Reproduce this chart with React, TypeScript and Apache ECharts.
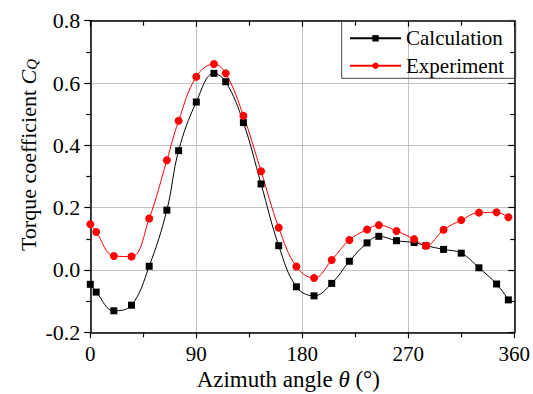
import React, { useEffect, useRef } from "react";
import * as echarts from "echarts";

// Azimuth positions (degrees) shared by both curves
const azimuth = [0, 5, 20, 35, 50, 65, 75, 90, 105, 115, 130, 145, 160, 175, 190, 205, 220, 235, 245, 260, 275, 285, 300, 315, 330, 345, 355];

// Torque coefficient C_Q
const calculation = [-0.046, -0.071, -0.131, -0.113, 0.012, 0.192, 0.383, 0.539, 0.631, 0.604, 0.473, 0.276, 0.078, -0.054, -0.083, -0.043, 0.028, 0.087, 0.108, 0.094, 0.088, 0.078, 0.066, 0.054, 0.007, -0.045, -0.096];
const experiment = [0.147, 0.122, 0.045, 0.043, 0.165, 0.352, 0.479, 0.62, 0.661, 0.631, 0.495, 0.317, 0.136, 0.011, -0.026, 0.032, 0.096, 0.13, 0.144, 0.125, 0.099, 0.078, 0.129, 0.16, 0.184, 0.185, 0.169];

const seriesNames = ["Calculation", "Experiment"];
const xRange = [0, 360];
const yRange = [-0.2, 0.8];

const serif = "Times New Roman, Liberation Serif, DejaVu Serif, serif";

export default function App() {
  const ref = useRef<HTMLDivElement>(null);

  useEffect(() => {
    const chart = echarts.init(ref.current!, null, { renderer: "svg" });
    const pairs = (ys: number[]) => azimuth.map((x, i) => [x, ys[i]]);
    const axisLine = { show: true, onZero: false, lineStyle: { color: "#000", width: 1.5 } };
    const tickStyle = { color: "#000", width: 1.2 };

    chart.setOption({
      animation: false,
      backgroundColor: "#fff",
      textStyle: { fontFamily: serif, color: "#000" },
      grid: { left: 90.3, top: 20.7, right: 17.3, bottom: 61.7, containLabel: false },
      xAxis: [
        {
          type: "value",
          position: "bottom",
          min: xRange[0],
          max: xRange[1],
          interval: 90,
          axisLine,
          axisTick: { inside: false, length: 6, lineStyle: tickStyle },
          minorTick: { show: true, splitNumber: 2, length: 5, lineStyle: tickStyle },
          axisLabel: { fontSize: 21, fontFamily: serif, color: "#000", margin: 11 },
          splitLine: { show: true, lineStyle: { color: "#c4c4c4", width: 1 } },
        },
        {
          type: "value",
          position: "top",
          min: xRange[0],
          max: xRange[1],
          interval: 90,
          axisLine,
          axisTick: { inside: true, length: 6, lineStyle: tickStyle },
          minorTick: { show: true, splitNumber: 2, length: 5, lineStyle: tickStyle },
          axisLabel: { show: false },
          splitLine: { show: false },
        },
      ],
      yAxis: [
        {
          type: "value",
          position: "left",
          min: yRange[0],
          max: yRange[1],
          interval: 0.2,
          axisLine,
          axisTick: { show: true, inside: false, length: 6, lineStyle: tickStyle },
          minorTick: { show: true, splitNumber: 2, length: 4, lineStyle: tickStyle },
          axisLabel: {
            fontSize: 22,
            fontFamily: serif,
            color: "#000",
            margin: 10,
            formatter: (v: number) => v.toFixed(1),
          },
          splitLine: { show: true, lineStyle: { color: "#c4c4c4", width: 1 } },
        },
        {
          type: "value",
          position: "right",
          min: yRange[0],
          max: yRange[1],
          interval: 0.2,
          axisLine,
          axisTick: { show: true, inside: true, length: 6, lineStyle: tickStyle },
          minorTick: { show: true, splitNumber: 2, length: 4, lineStyle: tickStyle },
          axisLabel: { show: false },
          splitLine: { show: false },
        },
      ],
      legend: {
        data: seriesNames,
        orient: "vertical",
        left: 349,
        top: 27.8,
        padding: 0,
        itemWidth: 51,
        itemHeight: 8,
        itemGap: 6.4,
        textStyle: { fontSize: 21, fontFamily: serif, color: "#000" },
      },
      series: [
        {
          name: seriesNames[0],
          type: "line",
          data: pairs(calculation),
          smooth: 0.4,
          symbol: "rect",
          symbolSize: 7,
          itemStyle: { color: "#000" },
          lineStyle: { color: "#000", width: 1 },
        },
        {
          name: seriesNames[1],
          type: "line",
          data: pairs(experiment),
          smooth: 0.4,
          symbol: "circle",
          symbolSize: 8,
          itemStyle: { color: "#ff0000" },
          lineStyle: { color: "#ff0000", width: 1 },
        },
      ],
      graphic: [
        {
          type: "rect",
          shape: { x: 341.7, y: 20.7, width: 174, height: 57.6 },
          style: { fill: "none", stroke: "#444", lineWidth: 1 },
          z: 10,
        },
        {
          type: "text",
          x: 288.3,
          y: 379.6,
          style: {
            text: "Azimuth angle {i|θ} (°)",
            fontSize: 23,
            fontFamily: serif,
            fill: "#000",
            align: "center",
            verticalAlign: "middle",
            rich: {
              i: { fontSize: 23, fontFamily: serif, fontStyle: "italic", fill: "#000" },
            },
          },
        },
        {
          type: "text",
          x: 28,
          y: 155,
          rotation: Math.PI / 2,
          style: {
            text: "Torque coefficient {i|C}{s|Q}",
            fontSize: 22,
            fontFamily: serif,
            fill: "#000",
            align: "center",
            verticalAlign: "middle",
            rich: {
              i: { fontSize: 22, fontFamily: serif, fontStyle: "italic", fill: "#000" },
              s: {
                fontSize: 15,
                fontFamily: serif,
                fontStyle: "italic",
                fill: "#000",
                verticalAlign: "bottom",
                lineHeight: 10,
              },
            },
          },
        },
      ],
    });

    return () => chart.dispose();
  }, []);

  return (
    <div
      ref={ref}
      style={{ position: "fixed", left: 0, top: 0, width: 533, height: 394 }}
    />
  );
}
